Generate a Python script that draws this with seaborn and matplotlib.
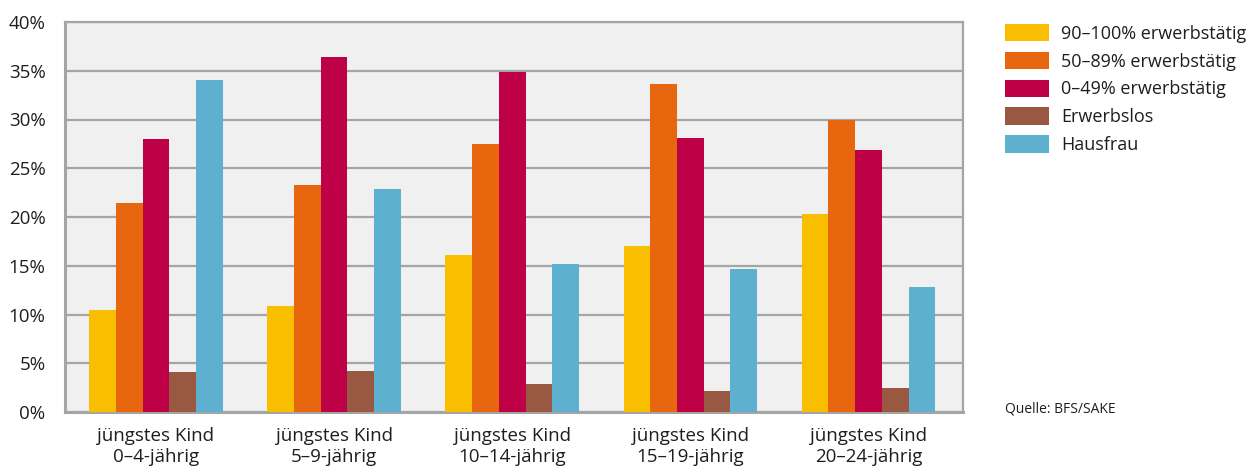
import matplotlib
matplotlib.use("Agg")
import matplotlib.pyplot as plt
import seaborn as sns
import pandas as pd
from matplotlib.ticker import FuncFormatter
from matplotlib.patches import Patch

categories = ["jüngstes Kind\n0–4-jährig", "jüngstes Kind\n5–9-jährig",
              "jüngstes Kind\n10–14-jährig", "jüngstes Kind\n15–19-jährig",
              "jüngstes Kind\n20–24-jährig"]
series = ["90–100% erwerbstätig", "50–89% erwerbstätig", "0–49% erwerbstätig",
          "Erwerbslos", "Hausfrau"]
v_90_100 = [10.5, 10.9, 16.1, 17.0, 20.3]
v_50_89 = [21.4, 23.3, 27.5, 33.6, 30.0]
v_0_49 = [28.0, 36.4, 34.9, 28.1, 26.9]
v_erwerbslos = [4.1, 4.2, 2.85, 2.2, 2.5]
v_hausfrau = [34.1, 22.9, 15.2, 14.7, 12.8]
colors = ["#F9BE00", "#E8670E", "#BE0047", "#995841", "#5DB0D0"]

values = [v_90_100, v_50_89, v_0_49, v_erwerbslos, v_hausfrau]
rows = []
for s, vals in zip(series, values):
    for c, v in zip(categories, vals):
        rows.append({"Kategorie": c, "Serie": s, "Wert": v})
df = pd.DataFrame(rows)

sns.set_style("white")
plt.rcParams["font.family"] = ["Open Sans", "DejaVu Sans"]

fig = plt.figure(figsize=(12.5, 4.66), dpi=100)
ax = fig.add_axes([65/1250, 1-412/466, (963-65)/1250, (412-22)/466])
ax.set_facecolor("#EFF0EF")

sns.barplot(data=df, x="Kategorie", y="Wert", hue="Serie", order=categories,
            hue_order=series, palette=colors, width=0.75, gap=0,
            saturation=1, errorbar=None, ax=ax, legend=False, zorder=3)
for p in ax.patches:
    p.set_edgecolor("none")

ax.set_ylim(0, 40)
ax.set_xlim(-0.51, 4.53)
ax.set_yticks(range(0, 41, 5))
ax.yaxis.set_major_formatter(FuncFormatter(lambda v, _: f"{int(v)}%"))
ax.grid(axis="y", color="#A4A6A6", lw=1.6, zorder=1)
ax.set_axisbelow(True)
ax.set_xlabel("")
ax.set_ylabel("")
for side in ["left", "bottom"]:
    ax.spines[side].set_color("#A4A6A6")
    ax.spines[side].set_linewidth(2.2)
for side in ["top", "right"]:
    ax.spines[side].set_color("#A4A6A6")
    ax.spines[side].set_linewidth(1.6)
ax.tick_params(axis="y", length=4, width=1.6, color="#A4A6A6", pad=10,
               labelsize=13.5, labelcolor="#1E1E1E")
ax.tick_params(axis="x", length=0, pad=11, labelsize=13.5, labelcolor="#1E1E1E")
for lbl in ax.get_xticklabels():
    lbl.set_linespacing(1.2)

handles = [Patch(facecolor=c, edgecolor="none", label=s) for c, s in zip(colors, series)]
leg = fig.legend(handles=handles, loc="upper left", bbox_to_anchor=(1005/1250, 1-24/466),
                 frameon=False, fontsize=13, handlelength=2.45, handleheight=1.1,
                 labelspacing=0.5, handletextpad=0.65, borderaxespad=0, borderpad=0)
for t in leg.get_texts():
    t.set_color("#1E1E1E")

fig.text(1005/1250, 1-409/466, "Quelle: BFS/SAKE", fontsize=10, color="#1E1E1E",
         va="center", ha="left")

fig.savefig("out.png", dpi=100)
